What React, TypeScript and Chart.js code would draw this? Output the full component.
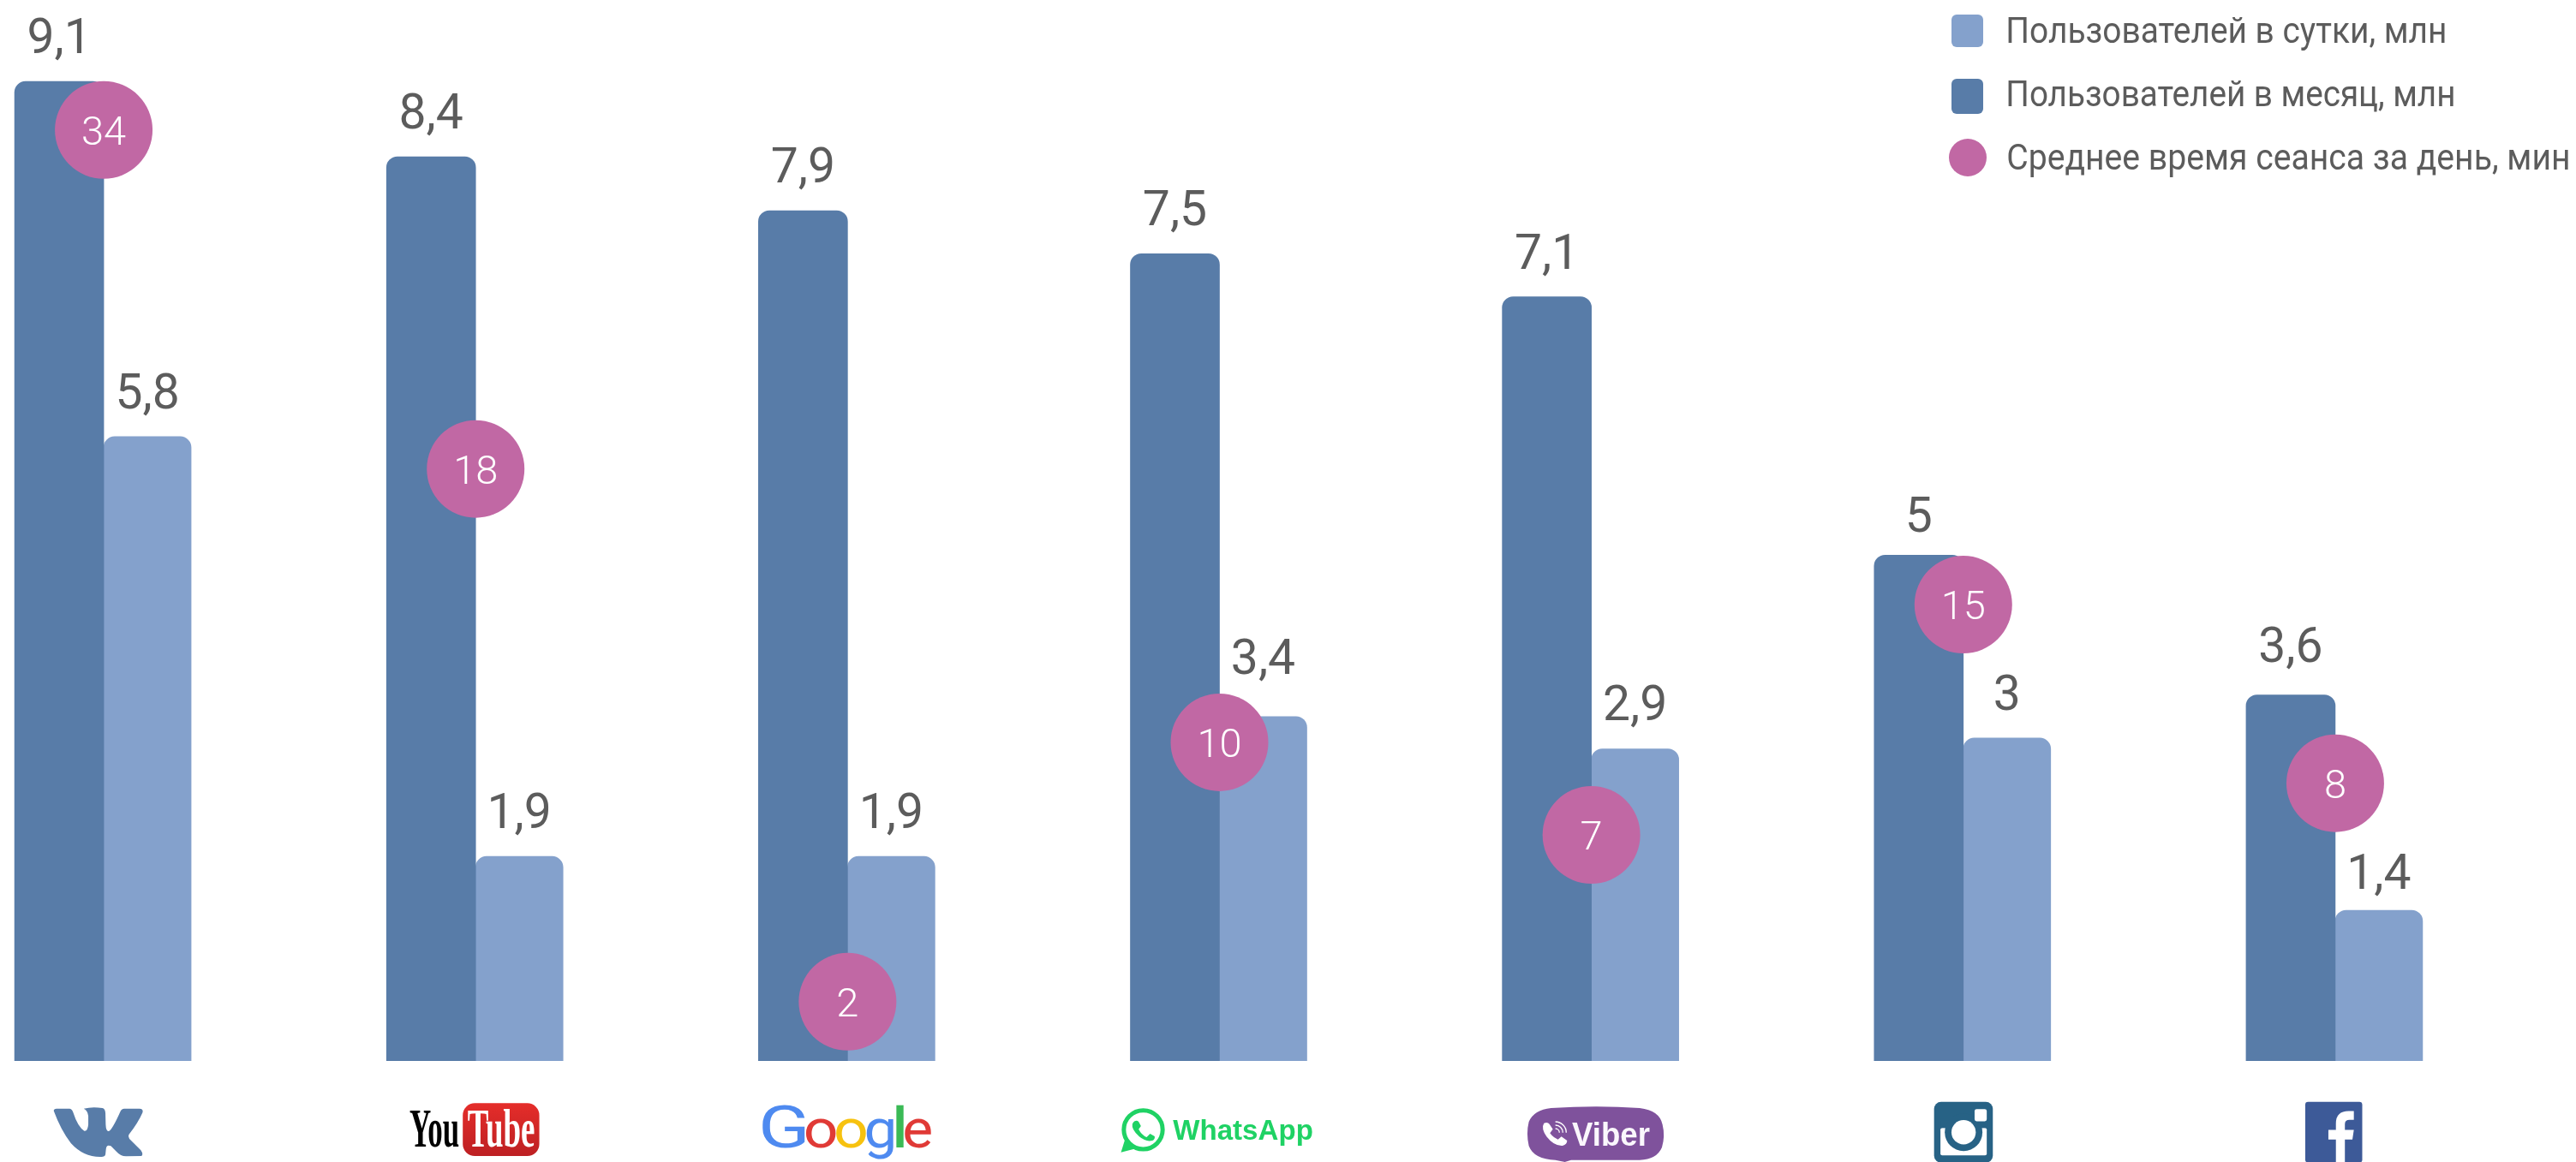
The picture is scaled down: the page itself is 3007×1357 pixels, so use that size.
import React, { useEffect, useRef } from "react";
import { Chart, registerables } from "chart.js";

Chart.register(...registerables);

const categories = ["VK", "YouTube", "Google", "WhatsApp", "Viber", "Instagram", "Facebook"];
// Printed labels, as the reference prints them.
const monthlyLabels = ["9,1", "8,4", "7,9", "7,5", "7,1", "5", "3,6"];
const dailyLabels = ["5,8", "1,9", "1,9", "3,4", "2,9", "3", "1,4"];
// Bar heights as drawn in the reference. Three of its bars are shorter than
// their printed label: Instagram 5 (drawn 4.7), Facebook 3,6 (3.4), WhatsApp 3,4 (3.2).
const monthlyHeights = [9.1, 8.4, 7.9, 7.5, 7.1, 4.7, 3.4];
const dailyHeights = [5.8, 1.9, 1.9, 3.2, 2.9, 3, 1.4];
const sessionMinutes = [34, 18, 2, 10, 7, 15, 8];
const bubbleHeights = [8.65, 5.5, 0.55, 2.96, 2.1, 4.24, 2.58];
const seriesNames = [
  "Пользователей в сутки, млн",
  "Пользователей в месяц, млн",
  "Среднее время сеанса за день, мин",
];

const DAY = "#84A1CC";
const MONTH = "#587CA8";
const PINK = "#C168A4";
const TEXT = "#5C5C5C";
const FONT = "Roboto";
const SHIFT = 96;
const monthlyGaps = [33, 33, 33, 33, 33, 27, 39];
const dailyGaps = [33, 33, 33, 50, 33, 33, 25];

function fit(ctx: any, text: string, font: string, x: number, base: number, width: number, color: string) {
  ctx.save();
  ctx.font = font;
  ctx.fillStyle = color;
  ctx.textAlign = "left";
  ctx.textBaseline = "alphabetic";
  const m = ctx.measureText(text);
  const actual = m.actualBoundingBoxRight + m.actualBoundingBoxLeft;
  ctx.translate(x + m.actualBoundingBoxLeft * (width / actual), base);
  ctx.scale(width / actual, 1);
  ctx.fillText(text, 0, 0);
  ctx.restore();
}

function box(ctx: any, ox: number, oy: number, k: number, fn: () => void) {
  ctx.save();
  ctx.translate(ox, oy);
  ctx.scale(k, k);
  fn();
  ctx.restore();
}

function rr(ctx: any, x: number, y: number, w: number, h: number, r: number, color: any) {
  ctx.beginPath();
  ctx.roundRect(x, y, w, h, r);
  ctx.fillStyle = color;
  ctx.fill();
}

const logos: ((ctx: any, cx: number) => void)[] = [
  (ctx, cx) =>
    box(ctx, cx - 80, 1280, 1 / 3, () => {
      ctx.fillStyle = MONTH;
      ctx.fill(
        new Path2D(
          "M65,52 Q65,44 75,44 L120,44 Q128,44 132,55 Q150,110 172,122 Q184,124 186,100 L186,70 Q184,50 170,44 Q200,36 235,42 Q245,44 246,60 L247,100 Q248,125 258,123 Q270,118 298,55 Q302,44 312,44 L365,44 Q380,44 376,58 Q360,95 328,135 Q324,142 330,150 L370,190 Q380,205 372,210 L320,211 Q300,212 285,195 L265,175 Q250,168 248,185 L246,205 Q244,213 232,213 Q170,215 125,165 Q90,120 65,52 Z"
        )
      );
    }),
  (ctx, cx) =>
    box(ctx, cx - 95, 1280, 1 / 3, () => {
      const g = ctx.createLinearGradient(0, 25, 0, 210);
      g.addColorStop(0, "#E52D2A");
      g.addColorStop(1, "#BD2023");
      rr(ctx, 240, 25, 268, 185, 42, g);
      fit(ctx, "You", "bold 190px 'Liberation Sans Narrow'", 55, 178, 170, "#000");
      fit(ctx, "Tube", "bold 190px 'Liberation Sans Narrow'", 258, 178, 232, "#FFF");
    }),
  (ctx, cx) =>
    box(ctx, cx - 110, 1280, 1 / 3, () => {
      fit(ctx, "G", "400 208px Roboto", 32, 180, 148, "#4E8AF0");
      fit(ctx, "o", "400 188px Roboto", 184, 180, 104, "#E03A36");
      fit(ctx, "o", "400 188px Roboto", 290, 180, 104, "#F7C20F");
      fit(ctx, "g", "400 188px Roboto", 396, 180, 94, "#4E8AF0");
      ctx.fillStyle = "#3ABA55";
      ctx.fillRect(501, 32, 25, 148);
      fit(ctx, "e", "400 188px Roboto", 530, 180, 92, "#E03A36");
    }),
  (ctx, cx) =>
    box(ctx, cx - 125, 1280, 1 / 3, () => {
      const c = "#1FD264";
      ctx.strokeStyle = c;
      ctx.lineWidth = 15;
      ctx.beginPath();
      ctx.arc(108, 118, 68, 0, Math.PI * 2);
      ctx.stroke();
      ctx.fillStyle = c;
      ctx.fill(new Path2D("M46,146 L30,197 L85,183 Z"));
      ctx.fill(
        new Path2D(
          "M78,88 Q86,84 92,90 L100,105 L92,116 Q102,136 120,144 L132,132 L148,141 Q150,152 140,156 Q118,162 94,142 Q66,116 70,98 Q72,92 78,88 Z"
        )
      );
      fit(ctx, "WhatsApp", "bold 102px 'Liberation Sans'", 212, 153, 488, c);
    }),
  (ctx, cx) =>
    box(ctx, cx - 87, 1280, 1 / 3, () => {
      ctx.fillStyle = "#7F529C";
      ctx.fill(
        new Path2D(
          "M120,42 Q280,32 430,42 Q500,50 510,100 Q520,140 508,180 Q490,222 430,224 L190,224 L168,231 L135,224 Q60,222 42,175 Q32,130 42,90 Q60,48 120,42 Z"
        )
      );
      ctx.fillStyle = "#FFF";
      ctx.fill(
        new Path2D(
          "M95,95 Q108,90 114,98 L126,116 L116,130 Q128,146 144,152 L156,142 L176,156 Q176,170 160,174 Q130,176 104,142 Q84,112 95,95 Z"
        )
      );
      ctx.strokeStyle = "#FFF";
      ctx.lineWidth = 4;
      [14, 26, 38].forEach((r) => {
        ctx.beginPath();
        ctx.arc(135, 128, r, -Math.PI / 2, 0);
        ctx.stroke();
      });
      fit(ctx, "Viber", "bold 115px 'Liberation Sans'", 193, 175, 272, "#FAF7FC");
    }),
  (ctx, cx) =>
    box(ctx, cx - 51, 1280, 1 / 2.96, () => {
      rr(ctx, 50, 20, 203, 210, 24, "#276285");
      rr(ctx, 72, 110, 160, 95, 6, "#FFF");
      ctx.fillStyle = "#276285";
      ctx.fillRect(72, 85, 160, 25);
      ctx.beginPath();
      ctx.arc(152, 125, 65, 0, Math.PI * 2);
      ctx.fill();
      ctx.fillStyle = "#FFF";
      ctx.beginPath();
      ctx.arc(152, 125, 42, 0, Math.PI * 2);
      ctx.fill();
      rr(ctx, 190, 45, 42, 42, 7, "#FFF");
    }),
  (ctx, cx) =>
    box(ctx, cx - 35, 1280, 1 / 2.96, () => {
      ctx.translate(-1335, 0);
      rr(ctx, 1335, 20, 197, 210, 10, "#3D5A98");
      ctx.fillStyle = "#FFF";
      ctx.fill(
        new Path2D(
          "M1441,230 L1441,150 L1415,150 L1415,117 L1441,117 L1441,95 Q1441,52 1485,52 L1503,52 L1503,82 L1488,82 Q1472,82 1472,97 L1472,117 L1503,117 L1498,150 L1472,150 L1472,230 Z"
        )
      );
    }),
];

const overlay = {
  id: "overlay",
  afterDatasetsDraw(chart: any) {
    const ctx = chart.ctx;
    ctx.save();

    // value labels above the bars
    ctx.fillStyle = TEXT;
    ctx.textAlign = "center";
    ctx.textBaseline = "alphabetic";
    ctx.font = `400 57px ${FONT}`;
    [monthlyLabels, dailyLabels].forEach((labels, d) => {
      const gaps = d === 0 ? monthlyGaps : dailyGaps;
      chart.getDatasetMeta(d).data.forEach((el: any, i: number) => {
        ctx.fillText(labels[i], el.x, el.y - gaps[i]);
      });
    });

    // minutes inside the circles
    ctx.fillStyle = "#FFF";
    ctx.font = `300 47px ${FONT}`;
    chart.getDatasetMeta(2).data.forEach((el: any, i: number) => {
      ctx.fillText(String(sessionMinutes[i]), el.x, el.y + 17);
    });

    // brand logos under each category
    const x = chart.scales.x;
    categories.forEach((_, i) => logos[i](ctx, x.getPixelForValue(i)));

    // legend
    ctx.translate(SHIFT, 0);
    rr(ctx, 2278, 17, 37, 38, 6, DAY);
    rr(ctx, 2278, 92, 37, 41, 6, MONTH);
    ctx.fillStyle = PINK;
    ctx.beginPath();
    ctx.ellipse(2297, 184, 22, 22, 0, 0, Math.PI * 2);
    ctx.fill();
    const legendFont = `400 43px ${FONT}`;
    fit(ctx, seriesNames[0], legendFont, 2344, 50, 510, TEXT);
    fit(ctx, seriesNames[1], legendFont, 2344, 124, 520, TEXT);
    fit(ctx, seriesNames[2], legendFont, 2344, 198, 654, TEXT);
    ctx.restore();
  },
};

export default function App() {
  const ref = useRef<HTMLCanvasElement>(null);
  useEffect(() => {
    document.body.style.margin = "0";
    document.body.style.overflow = "hidden";
    const radius = { topLeft: 13, topRight: 13, bottomLeft: 0, bottomRight: 0 };
    const chart = new Chart(ref.current as HTMLCanvasElement, {
      type: "bar",
      data: {
        labels: categories,
        datasets: [
          { label: seriesNames[1], data: monthlyHeights, backgroundColor: MONTH, borderRadius: radius, barThickness: 104, order: 2 },
          { label: seriesNames[0], data: dailyHeights, backgroundColor: DAY, borderRadius: radius, barThickness: 102, order: 2 },
          {
            type: "line",
            label: seriesNames[2],
            data: bubbleHeights,
            showLine: false,
            pointRadius: 57,
            pointBackgroundColor: PINK,
            pointBorderWidth: 0,
            order: 1,
            clip: false,
          },
        ],
      } as any,
      options: {
        animation: false,
        responsive: false,
        devicePixelRatio: 1,
        layout: { autoPadding: false, padding: { left: 0, top: 0, right: 64, bottom: 118 } },
        plugins: { legend: { display: false }, tooltip: { enabled: false }, title: { display: false } },
        scales: {
          x: { display: false, grid: { display: false } },
          y: { display: false, min: 0, max: 9.857, grid: { display: false } },
        },
      } as any,
      plugins: [overlay],
    });
    return () => chart.destroy();
  }, []);
  return (
    <canvas
      ref={ref}
      width={3007 + SHIFT}
      height={1357}
      style={{ position: "absolute", left: -SHIFT, top: 0, display: "block" }}
    />
  );
}
